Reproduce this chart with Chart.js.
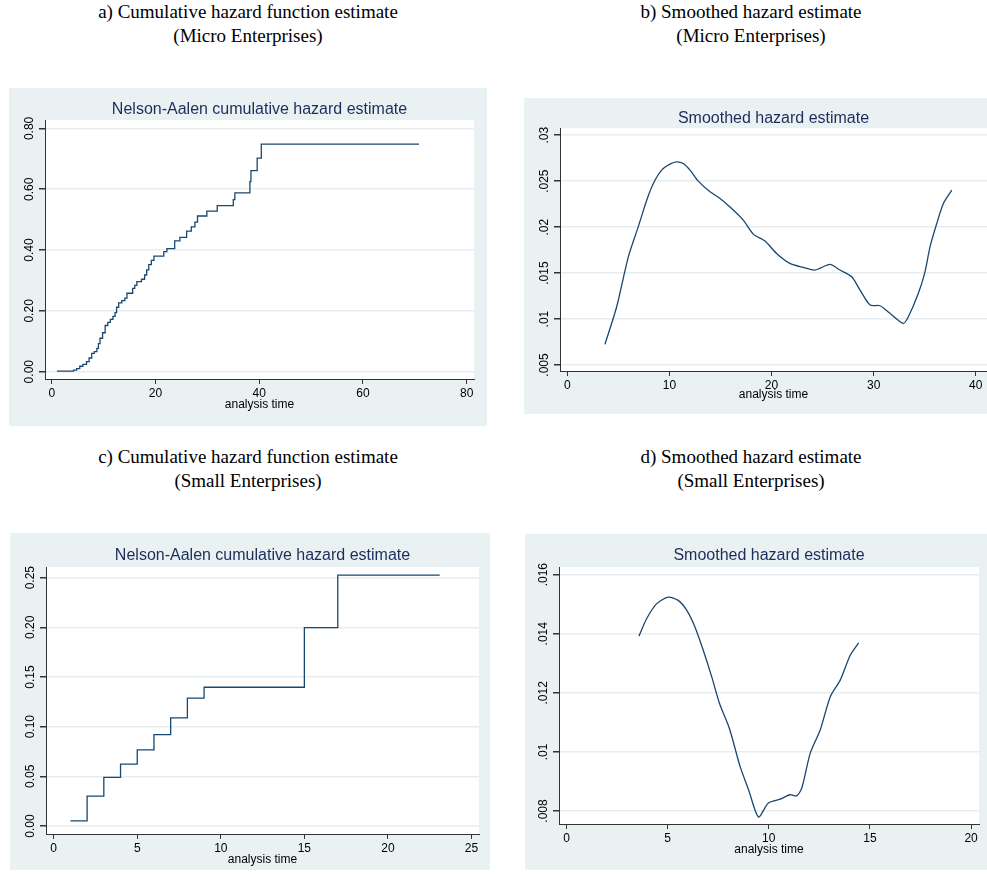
<!DOCTYPE html>
<html>
<head>
<meta charset="utf-8">
<script src="https://cdn.jsdelivr.net/npm/chart.js@4.4.1/dist/chart.umd.min.js"></script>
<style>
    body { margin: 0; background: #fff; width: 987px; height: 876px; position: relative; overflow: hidden; }
    .caption { position: absolute; width: 490px; text-align: center; font-family: 'Liberation Serif', serif; font-size: 19px; line-height: 24px; color: #000; }
    .panel { position: absolute; }
    .panel canvas { display: block; }
</style>
</head>
<body>
<div class="caption" style="left:3px; top:0px;">a) Cumulative hazard function estimate<br>(Micro Enterprises)</div>
<div class="caption" style="left:506px; top:0px;">b) Smoothed hazard estimate<br>(Micro Enterprises)</div>
<div class="caption" style="left:3px; top:445px;">c) Cumulative hazard function estimate<br>(Small Enterprises)</div>
<div class="caption" style="left:506px; top:445px;">d) Smoothed hazard estimate<br>(Small Enterprises)</div>

<div class="panel" style="left:9px; top:88px;"><canvas id="microCumChart" width="478" height="338"></canvas></div>
<div class="panel" style="left:524px; top:98px;"><canvas id="microHazChart" width="463" height="316"></canvas></div>
<div class="panel" style="left:10px; top:533px;"><canvas id="smallCumChart" width="480" height="337"></canvas></div>
<div class="panel" style="left:525px; top:534px;"><canvas id="smallHazChart" width="462" height="336"></canvas></div>

<script>
// a) Nelson-Aalen, micro enterprises (jump times and values after each jump)
const microCumTimes = [1, 4.2, 4.8, 5.4, 6.0, 6.7, 7.2, 7.7, 8.2, 8.7, 9.0, 9.3, 9.8, 10.3, 10.8, 11.3, 11.8, 12.2, 12.5, 12.9,
    13.5, 14.1, 14.5, 15.6, 16.0, 16.4, 17.3, 17.9, 18.3, 18.7, 19.2, 19.7, 21.6, 22.2, 23.7, 24.7, 26.0, 26.9, 27.6, 28.1,
    29.9, 31.9, 35.0, 35.3, 38.2, 38.4, 39.6, 40.4, 70.8];
const microCumValues = [0.002, 0.005, 0.010, 0.018, 0.024, 0.033, 0.045, 0.060, 0.066, 0.077, 0.092, 0.110, 0.128, 0.152, 0.162, 0.172, 0.182, 0.194, 0.212, 0.226,
    0.234, 0.242, 0.258, 0.274, 0.284, 0.296, 0.304, 0.318, 0.335, 0.352, 0.366, 0.380, 0.395, 0.405, 0.430, 0.442, 0.462, 0.476, 0.492, 0.512,
    0.528, 0.546, 0.566, 0.588, 0.625, 0.661, 0.702, 0.748, 0.748];
const microCumXTicks = [0, 20, 40, 60, 80];
const microCumYTicks = [0, 0.2, 0.4, 0.6, 0.8];
const microCumYLabels = ['0.00', '0.20', '0.40', '0.60', '0.80'];

// b) smoothed hazard, micro enterprises
const microHazTimes = [3.69, 4.84, 5.98, 6.95, 7.78, 8.43, 9.24, 10.06, 10.71, 11.36, 12.02, 12.83, 13.98, 14.96, 16.1, 17.24, 18.22,
    19.36, 20.5, 21.8, 23.1, 24.26, 25.73, 26.7, 27.85, 28.67, 29.65, 30.63, 31.6, 32.9, 33.4, 34.38, 35.03, 35.52, 36.18, 36.83, 37.65];
const microHazValues = [0.00725, 0.01134, 0.01677, 0.02003, 0.02293, 0.02475, 0.0262, 0.02685, 0.0271, 0.02692, 0.0262, 0.025, 0.02384, 0.02312, 0.02203, 0.02076, 0.01924,
    0.01848, 0.01714, 0.01605, 0.01562, 0.01533, 0.01595, 0.01533, 0.0146, 0.01315, 0.01152, 0.01145, 0.01062, 0.00953, 0.01025, 0.0128, 0.01514, 0.01786, 0.0204, 0.02258, 0.02402];
const microHazXTicks = [0, 10, 20, 30, 40];
const microHazYTicks = [0.005, 0.01, 0.015, 0.02, 0.025, 0.03];
const microHazYLabels = ['.005', '.01', '.015', '.02', '.025', '.03'];

// c) Nelson-Aalen, small enterprises
const smallCumTimes = [1, 2, 3, 4, 5, 6, 7, 8, 9, 15, 17, 23.1];
const smallCumValues = [0.0053, 0.0302, 0.049, 0.0623, 0.0767, 0.0921, 0.1089, 0.1287, 0.1397, 0.1997, 0.2526, 0.2526];
const smallCumXTicks = [0, 5, 10, 15, 20, 25];
const smallCumYTicks = [0, 0.05, 0.1, 0.15, 0.2, 0.25];
const smallCumYLabels = ['0.00', '0.05', '0.10', '0.15', '0.20', '0.25'];

// d) smoothed hazard, small enterprises
const smallHazTimes = [3.58, 3.96, 4.46, 5.03, 5.52, 5.94, 6.35, 6.76, 7.18, 7.56, 8.05, 8.58, 9.0, 9.49, 9.98, 10.56, 11.05, 11.39, 11.63,
    12.05, 12.54, 13.04, 13.53, 14.03, 14.44];
const smallHazValues = [0.01392, 0.01451, 0.01502, 0.01524, 0.01513, 0.0148, 0.01423, 0.01344, 0.01254, 0.01165, 0.0108, 0.00951, 0.00872, 0.0078, 0.00827, 0.0084, 0.00855, 0.00852, 0.00878,
    0.00996, 0.01074, 0.01187, 0.01243, 0.01328, 0.01369];
const smallHazXTicks = [0, 5, 10, 15, 20];
const smallHazYTicks = [0.008, 0.01, 0.012, 0.014, 0.016];
const smallHazYLabels = ['.008', '.01', '.012', '.014', '.016'];

const panelBackground = {
    id: 'panelBackground',
    beforeDraw(chart) {
        const {ctx, chartArea} = chart;
        ctx.save();
        ctx.fillStyle = '#eaf1f2';
        ctx.fillRect(0, 0, chart.width, chart.height);
        ctx.fillStyle = '#ffffff';
        ctx.fillRect(chartArea.left, chartArea.top, chartArea.right - chartArea.left, chartArea.bottom - chartArea.top);
        ctx.restore();
    }
};

function hazardChart(canvasId, o) {
    const ctx = document.getElementById(canvasId).getContext('2d');
    return new Chart(ctx, {
        type: 'line',
        data: {
            datasets: [{
                data: o.times.map((t, i) => ({x: t, y: o.values[i]})),
                borderColor: '#1a476f',
                borderWidth: 1.3,
                pointRadius: 0,
                stepped: o.stepped ? 'before' : false,
                tension: o.stepped ? 0 : 0.25,
                fill: false
            }]
        },
        options: {
            responsive: false,
            animation: false,
            layout: {padding: {right: o.padRight}},
            plugins: {
                legend: {display: false},
                tooltip: {enabled: false},
                title: {
                    display: true,
                    fullSize: false,
                    text: o.title,
                    color: '#1c2c5c',
                    font: {family: 'Liberation Sans', size: 16, weight: 'normal', lineHeight: 1.2},
                    padding: o.titlePad
                }
            },
            scales: {
                x: {
                    type: 'linear',
                    min: o.xMin,
                    max: o.xMax,
                    afterBuildTicks: scale => { scale.ticks = o.xTicks.map(v => ({value: v})); },
                    afterFit: scale => { scale.height = o.xHeight; },
                    ticks: {color: '#000', autoSkip: false, maxRotation: 0, padding: 2,
                        font: {family: 'Liberation Sans', size: 12}, callback: v => String(v)},
                    grid: {drawOnChartArea: false, tickLength: 5, tickColor: '#333'},
                    border: {color: '#333', width: 1},
                    title: {display: true, text: 'analysis time', color: '#000',
                        font: {family: 'Liberation Sans', size: 12, lineHeight: 1.2},
                        padding: {top: 0, bottom: o.xTitlePad}}
                },
                y: {
                    type: 'linear',
                    min: o.yMin,
                    max: o.yMax,
                    afterBuildTicks: scale => { scale.ticks = o.yTicks.map(v => ({value: v})); },
                    afterFit: scale => { scale.width = o.yWidth; },
                    ticks: {color: '#000', autoSkip: false, minRotation: 90, maxRotation: 90, crossAlign: 'center', padding: -2,
                        font: {family: 'Liberation Sans', size: 12}, callback: (v, i) => o.yLabels[i]},
                    grid: {color: '#e6eef0', lineWidth: 1.5, tickLength: 6, tickColor: '#333'},
                    border: {color: '#333', width: 1}
                }
            }
        },
        plugins: [panelBackground]
    });
}

const microCumChart = hazardChart('microCumChart', {
    times: microCumTimes, values: microCumValues, stepped: true,
    title: 'Nelson-Aalen cumulative hazard estimate', titlePad: {top: 12, bottom: 1},
    xMin: -1.3, xMax: 81.4, xTicks: microCumXTicks, xHeight: 47, xTitlePad: 13.8,
    yMin: -0.024, yMax: 0.827, yTicks: microCumYTicks, yLabels: microCumYLabels, yWidth: 36,
    padRight: 13
});

const microHazChart = hazardChart('microHazChart', {
    times: microHazTimes, values: microHazValues, stepped: false,
    title: 'Smoothed hazard estimate', titlePad: {top: 11, bottom: 0},
    xMin: -0.71, xMax: 41.1, xTicks: microHazXTicks, xHeight: 43, xTitlePad: 11.8,
    yMin: 0.00435, yMax: 0.03076, yTicks: microHazYTicks, yLabels: microHazYLabels, yWidth: 36,
    padRight: 0
});

const smallCumChart = hazardChart('smallCumChart', {
    times: smallCumTimes, values: smallCumValues, stepped: true,
    title: 'Nelson-Aalen cumulative hazard estimate', titlePad: {top: 13, bottom: 1.8},
    xMin: -0.46, xMax: 25.45, xTicks: smallCumXTicks, xHeight: 36, xTitlePad: 2.8,
    yMin: -0.008, yMax: 0.2607, yTicks: smallCumYTicks, yLabels: smallCumYLabels, yWidth: 36,
    padRight: 11
});

const smallHazChart = hazardChart('smallHazChart', {
    times: smallHazTimes, values: smallHazValues, stepped: false,
    title: 'Smoothed hazard estimate', titlePad: {top: 12, bottom: 1.8},
    xMin: -0.37, xMax: 20.39, xTicks: smallHazXTicks, xHeight: 46, xTitlePad: 12.8,
    yMin: 0.00756, yMax: 0.01626, yTicks: smallHazYTicks, yLabels: smallHazYLabels, yWidth: 34,
    padRight: 8
});
</script>
</body>
</html>
